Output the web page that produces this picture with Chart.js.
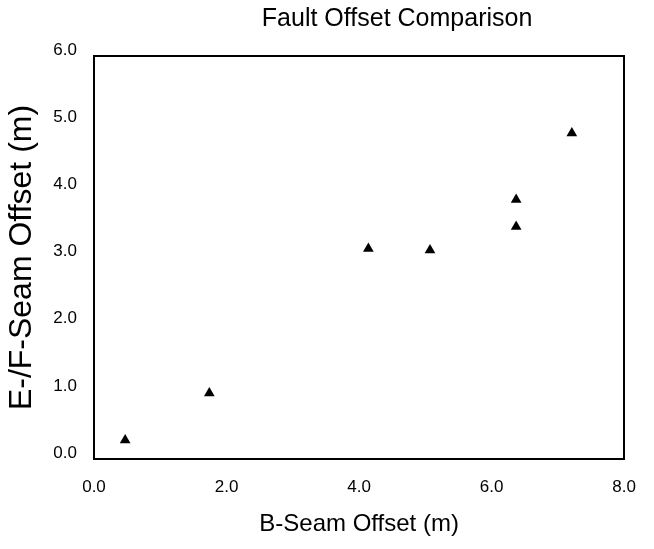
<!DOCTYPE html>
<html>
<head>
<meta charset="utf-8">
<script src="https://cdn.jsdelivr.net/npm/chart.js@4/dist/chart.umd.min.js"></script>
<style>
  html, body { margin: 0; padding: 0; background: #fff; }
  #wrap { width: 654px; height: 549px; position: relative; }
</style>
</head>
<body>
<div id="wrap"><canvas id="c"></canvas></div>
<script>
const chartTitle = "Fault Offset Comparison";
const xTitle = "B-Seam Offset (m)";
const yTitle = "E-/F-Seam Offset (m)";
const bSeamOffset = [0.47, 1.74, 4.14, 5.07, 6.37, 6.37, 7.21];
const efSeamOffset = [0.28, 0.98, 3.13, 3.11, 3.86, 3.46, 4.85];
const xRange = [0, 8];
const yRange = [0, 6];

const points = bSeamOffset.map((x, i) => ({ x: x, y: efSeamOffset[i] }));
const FONT = "'Liberation Sans', Arial, sans-serif";
const fixH = h => (s) => { s.height = h; };
const fixW = w => (s) => { s.width = w; };

// The original title sits a little right of the plot centre.
const titleShift = {
  id: 'titleShift',
  afterLayout(chart) {
    const tb = chart.titleBlock;
    if (tb) { tb.left = chart.chartArea.left + 76; tb.right = chart.chartArea.right; }
  }
};

new Chart(document.getElementById('c'), {
  type: 'scatter',
  data: {
    datasets: [{
      data: points,
      pointStyle: 'triangle',
      radius: 6.2,
      hoverRadius: 6.2,
      backgroundColor: '#000',
      borderColor: '#000',
      borderWidth: 0
    }]
  },
  plugins: [titleShift],
  options: {
    responsive: true,
    maintainAspectRatio: false,
    animation: false,
    layout: { padding: 0 },
    plugins: {
      legend: { display: false },
      tooltip: { enabled: false },
      title: { display: true, text: chartTitle, color: '#000', fullSize: false,
               font: { family: FONT, size: 25, weight: 'normal' }, padding: { top: 4, bottom: 22 } }
    },
    scales: {
      x: {
        type: 'linear', position: 'bottom', min: xRange[0], max: xRange[1],
        afterFit: fixH(90),
        grid: { display: false, drawTicks: false },
        border: { display: true, color: '#000', width: 2 },
        ticks: { stepSize: 2, padding: 18, color: '#000', font: { family: FONT, size: 17 },
                 callback: v => Number(v).toFixed(1), maxRotation: 0 },
        title: { display: true, text: xTitle, color: '#000', font: { family: FONT, size: 24 }, padding: { top: 0, bottom: 10 } }
      },
      x2: {
        type: 'linear', position: 'top', min: xRange[0], max: xRange[1],
        afterFit: fixH(0),
        grid: { display: false, drawTicks: false },
        border: { display: true, color: '#000', width: 2 },
        ticks: { display: false }
      },
      y: {
        type: 'linear', position: 'left', min: yRange[0], max: yRange[1],
        afterFit: fixW(94),
        grid: { display: false, drawTicks: false },
        border: { display: true, color: '#000', width: 2 },
        ticks: { stepSize: 1, padding: 17, labelOffset: -6, color: '#000', font: { family: FONT, size: 17 },
                 callback: v => Number(v).toFixed(1) },
        title: { display: true, text: yTitle, color: '#000', font: { family: FONT, size: 32 }, padding: { top: 3, bottom: 0 } }
      },
      y2: {
        type: 'linear', position: 'right', min: yRange[0], max: yRange[1],
        afterFit: fixW(13),
        grid: { display: false, drawTicks: false },
        border: { display: true, color: '#000', width: 2 },
        ticks: { display: false }
      }
    }
  }
});
</script>
</body>
</html>
